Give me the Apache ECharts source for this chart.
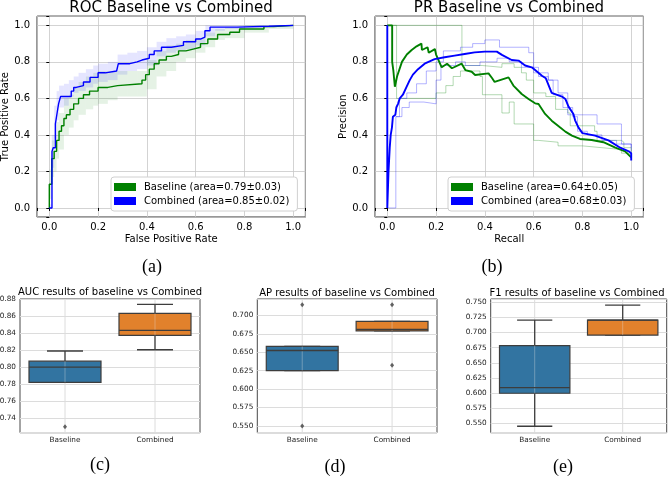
<!DOCTYPE html>
<html>
<head>
<meta charset="utf-8">
<script src="https://cdn.jsdelivr.net/npm/echarts@6/dist/echarts.min.js"></script>
<style>
html, body { margin: 0; padding: 0; background: #fff; }
#chart { width: 671px; height: 477px; }
</style>
</head>
<body>
<div id="chart"></div>
<script>
// ROC mean curves (step plots)
const rocBaseFpr = [0, 0, 0.01, 0.02, 0.03, 0.04, 0.05, 0.06, 0.07, 0.085, 0.1, 0.12, 0.14, 0.165, 0.2, 0.24, 0.28, 0.38, 0.395, 0.41, 0.43, 0.45, 0.48, 0.5, 0.53, 0.56, 0.59, 0.62, 0.65, 0.69, 0.74, 0.78, 0.88, 0.92, 1.0];
const rocBaseTpr = [0, 0.13, 0.27, 0.31, 0.37, 0.42, 0.45, 0.49, 0.51, 0.54, 0.57, 0.6, 0.62, 0.64, 0.66, 0.67, 0.68, 0.70, 0.73, 0.76, 0.79, 0.81, 0.83, 0.84, 0.86, 0.87, 0.88, 0.90, 0.925, 0.95, 0.962, 0.98, 0.993, 1.0, 1.0];
const rocCombFpr = [0, 0.011, 0.016, 0.025, 0.032, 0.038, 0.046, 0.09, 0.1, 0.11, 0.14, 0.167, 0.2, 0.23, 0.276, 0.283, 0.33, 0.36, 0.38, 0.41, 0.43, 0.46, 0.5, 0.55, 0.6, 0.62, 0.638, 0.659, 0.77, 0.9, 1.0];
const rocCombTpr = [0, 0.31, 0.33, 0.46, 0.52, 0.57, 0.61, 0.64, 0.66, 0.67, 0.69, 0.715, 0.74, 0.75, 0.76, 0.79, 0.80, 0.81, 0.82, 0.84, 0.86, 0.88, 0.89, 0.91, 0.925, 0.935, 0.97, 0.99, 0.995, 1.0, 1.0];

// ROC +/- std bands
const rocBandFpr = [0, 0.01, 0.02, 0.03, 0.04, 0.06, 0.08, 0.1, 0.12, 0.15, 0.18, 0.2, 0.24, 0.28, 0.32, 0.36, 0.4, 0.44, 0.48, 0.52, 0.56, 0.6, 0.64, 0.68, 0.72, 0.8, 0.9, 1.0];
const rocBaseLow = [0.05, 0.17, 0.20, 0.27, 0.32, 0.40, 0.44, 0.48, 0.51, 0.54, 0.56, 0.57, 0.59, 0.61, 0.61, 0.61, 0.65, 0.72, 0.75, 0.80, 0.82, 0.85, 0.88, 0.92, 0.93, 0.96, 0.98, 1.0];
const rocBaseHigh = [0.21, 0.37, 0.40, 0.47, 0.52, 0.60, 0.62, 0.66, 0.69, 0.72, 0.74, 0.75, 0.75, 0.75, 0.75, 0.75, 0.81, 0.86, 0.89, 0.90, 0.92, 0.93, 0.96, 0.98, 0.99, 1.0, 1.0, 1.0];
const rocCombLow = [0, 0.22, 0.38, 0.48, 0.55, 0.56, 0.61, 0.63, 0.64, 0.66, 0.68, 0.69, 0.70, 0.73, 0.75, 0.76, 0.78, 0.83, 0.85, 0.86, 0.87, 0.89, 0.94, 0.97, 0.98, 0.99, 0.99, 1.0];
const rocCombHigh = [0.02, 0.40, 0.56, 0.64, 0.67, 0.68, 0.70, 0.72, 0.74, 0.76, 0.78, 0.79, 0.80, 0.84, 0.85, 0.86, 0.88, 0.91, 0.93, 0.94, 0.95, 0.97, 1.0, 1.0, 1.0, 1.0, 1.0, 1.0];

// PR mean curves
const prBaseRec = [0, 0.02, 0.02, 0.025, 0.031, 0.04, 0.06, 0.08, 0.1, 0.12, 0.14, 0.142, 0.165, 0.17, 0.195, 0.2, 0.223, 0.245, 0.265, 0.305, 0.32, 0.346, 0.36, 0.415, 0.43, 0.44, 0.497, 0.517, 0.524, 0.551, 0.579, 0.606, 0.62, 0.647, 0.674, 0.709, 0.73, 0.757, 0.79, 0.838, 0.886, 0.935, 0.975, 1.0];
const prBasePrec = [1.0, 1.0, 0.8, 0.75, 0.664, 0.72, 0.80, 0.84, 0.865, 0.885, 0.9, 0.865, 0.88, 0.85, 0.87, 0.84, 0.77, 0.79, 0.765, 0.79, 0.755, 0.746, 0.728, 0.737, 0.71, 0.69, 0.715, 0.67, 0.664, 0.624, 0.597, 0.573, 0.569, 0.515, 0.478, 0.44, 0.418, 0.396, 0.378, 0.372, 0.36, 0.33, 0.31, 0.277];
const prCombRec = [0, 0, 0.005, 0.005, 0.01, 0.014, 0.019, 0.023, 0.033, 0.037, 0.044, 0.051, 0.064, 0.078, 0.092, 0.105, 0.126, 0.153, 0.194, 0.235, 0.276, 0.317, 0.358, 0.4, 0.449, 0.47, 0.51, 0.538, 0.565, 0.592, 0.606, 0.634, 0.65, 0.674, 0.716, 0.73, 0.743, 0.763, 0.77, 0.784, 0.8, 0.852, 0.907, 0.955, 0.99, 1.0, 1.0];
const prCombPrec = [1.0, 0, 0, 0.2, 0.33, 0.4, 0.44, 0.5, 0.51, 0.55, 0.57, 0.6, 0.62, 0.66, 0.7, 0.73, 0.76, 0.79, 0.815, 0.825, 0.834, 0.843, 0.852, 0.856, 0.856, 0.838, 0.81, 0.807, 0.78, 0.77, 0.755, 0.724, 0.71, 0.63, 0.61, 0.597, 0.555, 0.515, 0.48, 0.44, 0.41, 0.396, 0.37, 0.33, 0.31, 0.3, 0.26];

// PR upper / lower fold curves (faint step lines)
const prBaseHiRec = [0, 0.306, 0.39, 0.47, 0.52, 0.55, 0.57, 0.6, 0.65, 0.69, 0.74, 0.75, 0.85, 0.86, 0.96, 0.97, 1.0];
const prBaseHiPrec = [1.0, 0.78, 0.77, 0.79, 0.77, 0.74, 0.70, 0.63, 0.61, 0.54, 0.52, 0.45, 0.42, 0.37, 0.36, 0.33, 0.28];
const prBaseLoRec = [0, 0.038, 0.2, 0.24, 0.27, 0.3, 0.38, 0.39, 0.47, 0.5, 0.52, 0.6, 0.62, 0.7, 0.8, 0.88, 0.96, 1.0];
const prBaseLoPrec = [1.0, 0.6, 0.63, 0.67, 0.72, 0.75, 0.72, 0.62, 0.52, 0.58, 0.46, 0.37, 0.36, 0.34, 0.33, 0.32, 0.30, 0.27];
const prCombHiRec = [0.035, 0.05, 0.08, 0.12, 0.16, 0.2, 0.23, 0.3, 0.35, 0.4, 0.46, 0.58, 0.6, 0.66, 0.7, 0.74, 0.86, 0.96, 1.0];
const prCombHiPrec = [0.5, 0.6, 0.63, 0.68, 0.75, 0.80, 0.86, 0.88, 0.9, 0.92, 0.88, 0.85, 0.74, 0.70, 0.63, 0.51, 0.46, 0.35, 0.33];
const prCombLoRec = [0, 0.035, 0.06, 0.09, 0.15, 0.2, 0.22, 0.28, 0.32, 0.38, 0.45, 0.5, 0.55, 0.62, 0.66, 0.68, 0.72, 0.76, 0.78, 0.82, 0.88, 0.94, 1.0];
const prCombLoPrec = [0, 0.5, 0.55, 0.58, 0.57, 0.70, 0.78, 0.80, 0.78, 0.80, 0.82, 0.80, 0.77, 0.72, 0.70, 0.62, 0.55, 0.5, 0.42, 0.40, 0.37, 0.35, 0.31];

// box plots: [whiskerLow, q1, median, q3, whiskerHigh]
const boxCategories = ['Baseline', 'Combined'];
const aucBoxes = [[0.782, 0.782, 0.800, 0.807, 0.819], [0.8205, 0.8374, 0.8433, 0.8632, 0.8738]];
const aucOutliers = [[0, 0.730]];
const apBoxes = [[0.6252, 0.6252, 0.6524, 0.6579, 0.6579], [0.679, 0.679, 0.681, 0.6918, 0.6918]];
const apOutliers = [[0, 0.7144], [0, 0.5499], [1, 0.7144], [1, 0.6324]];
const f1Boxes = [[0.5456, 0.5999, 0.6092, 0.6783, 0.7204], [0.6957, 0.6957, 0.7204, 0.7204, 0.745]];
const f1Outliers = [];

const rocLegend = ['Baseline (area=0.79±0.03)', 'Combined (area=0.85±0.02)'];
const prLegend = ['Baseline (area=0.64±0.05)', 'Combined (area=0.68±0.03)'];

const FONT = 'DejaVu Sans';
const boxColors = ['#3274a1', '#e1812c'];
const edge = '#3d3d3d';

const pts = (xs, ys) => xs.map((x, i) => [x, ys[i]]);

function onStep(v, step) {
    return Math.abs(v / step - Math.round(v / step)) < 1e-6;
}

function curveGrid(left) {
    return { left: left, top: 16.2, width: 268.3, height: 200.9, show: true, borderColor: '#000', borderWidth: 1,
        backgroundColor: 'transparent', containLabel: false, outerBoundsMode: 'none' };
}
function boxGrid(left, width) {
    return { left: left, top: 299, width: width, height: 133.7, show: true, borderColor: '#333', borderWidth: 0.9,
        backgroundColor: 'transparent', containLabel: false, outerBoundsMode: 'none' };
}

function curveAxis(gridIndex, name, isY) {
    return {
        type: 'value', gridIndex: gridIndex, min: -0.05, max: 1.05, minInterval: 0.2, maxInterval: 0.2,
        name: name, nameLocation: 'middle', nameGap: isY ? 19 : 17, nameRotate: isY ? 90 : 0,
        nameTextStyle: { fontFamily: FONT, fontSize: 10, color: '#000' },
        axisLine: { show: false },
        axisTick: { show: true, length: 3, lineStyle: { color: '#000' } },
        axisLabel: { fontFamily: FONT, fontSize: 10, color: '#000', margin: isY ? 7 : 5, hideOverlap: false,
            formatter: v => (v < -1e-9 || v > 1 + 1e-9 || !onStep(v, 0.2)) ? '' : v.toFixed(1) },
        splitLine: { show: true, lineStyle: { color: '#c8c8c8', width: 0.8 } }
    };
}

function boxYAxis(gridIndex, min, max, step, digits) {
    return {
        type: 'value', gridIndex: gridIndex, min: min, max: max, minInterval: step, maxInterval: step,
        axisLine: { show: false }, axisTick: { show: false },
        axisLabel: { fontFamily: FONT, fontSize: 7.3, color: '#222', margin: 4, hideOverlap: false,
            formatter: v => onStep(v, step) ? v.toFixed(digits) : '' },
        splitLine: { show: true, lineStyle: { color: '#dcdcdc', width: 1 } }
    };
}
function boxXAxis(gridIndex) {
    return {
        type: 'category', gridIndex: gridIndex, data: boxCategories, boundaryGap: true,
        axisLine: { show: false }, axisTick: { show: false },
        axisLabel: { fontFamily: FONT, fontSize: 7.3, color: '#222', margin: 4, interval: 0 },
        splitLine: { show: false }
    };
}

function renderBox(params, api) {
    const i = api.value(0);
    const bw = api.size([1, 0])[0] * 0.8;
    const cw = bw / 2;
    const cx = api.coord([i, api.value(3)])[0];
    const yOf = k => api.coord([i, api.value(k)])[1];
    const wLo = yOf(1), q1 = yOf(2), med = yOf(3), q3 = yOf(4), wHi = yOf(5);
    const cs = params.coordSys;
    const ln = (x1, y1, x2, y2, stroke, w) => ({ type: 'line', shape: { x1: x1, y1: y1, x2: x2, y2: y2 }, style: { stroke: stroke, lineWidth: w } });
    return {
        type: 'group',
        children: [
            ln(cx, cs.y, cx, cs.y + cs.height, '#dcdcdc', 1),
            ln(cx, q1, cx, wLo, edge, 1.3),
            ln(cx, q3, cx, wHi, edge, 1.3),
            ln(cx - cw / 2, wLo, cx + cw / 2, wLo, edge, 1.3),
            ln(cx - cw / 2, wHi, cx + cw / 2, wHi, edge, 1.3),
            { type: 'rect', shape: { x: cx - bw / 2, y: q3, width: bw, height: q1 - q3 },
              style: { fill: boxColors[params.dataIndex], stroke: edge, lineWidth: 1.2 } },
            ln(cx, q3, cx, q1, 'rgba(225,225,225,0.35)', 1),
            ln(cx - bw / 2, med, cx + bw / 2, med, edge, 1.3)
        ]
    };
}

function boxSeries(idx, boxes, outliers) {
    return [{
        type: 'custom', xAxisIndex: idx, yAxisIndex: idx, renderItem: renderBox,
        encode: { x: 0, y: [1, 2, 3, 4, 5] },
        data: boxes.map((b, i) => [i].concat(b)), silent: true
    }, {
        type: 'scatter', xAxisIndex: idx, yAxisIndex: idx, symbol: 'diamond', symbolSize: [4, 5],
        itemStyle: { color: edge }, data: outliers, silent: true
    }];
}

// std band as one step rectangle per fpr interval
function band(xs, lo, hi, fill) {
    return {
        type: 'custom', xAxisIndex: 0, yAxisIndex: 0, silent: true,
        encode: { x: [0, 1], y: [2, 3] },
        data: xs.slice(0, -1).map((x, i) => [x, xs[i + 1], lo[i], hi[i]]),
        renderItem: function (params, api) {
            const p0 = api.coord([api.value(0), api.value(3)]);
            const p1 = api.coord([api.value(1), api.value(2)]);
            return { type: 'rect', shape: { x: p0[0], y: p0[1], width: p1[0] - p0[0], height: p1[1] - p0[1] },
                style: { fill: fill } };
        }
    };
}

function curve(axis, name, data, color, width, step) {
    return {
        type: 'line', name: name, xAxisIndex: axis, yAxisIndex: axis, data: data, step: step,
        symbol: 'none', color: color, itemStyle: { color: color },
        lineStyle: { color: color, width: width }, silent: true
    };
}

function legend(names, left) {
    return {
        data: names, left: left, top: 177, orient: 'vertical', icon: 'rect', itemWidth: 22, itemHeight: 8,
        itemGap: 4, padding: [5, 8, 5, 3], backgroundColor: '#fff', borderColor: '#d0d0d0', borderWidth: 1,
        borderRadius: 3, selectedMode: false,
        textStyle: { fontFamily: FONT, fontSize: 10, color: '#000', padding: [0, 0, 0, 3] }
    };
}

function label(text, x, y, size, family) {
    return { type: 'text', x: x, y: y, silent: true,
        style: { text: text, fontSize: size, fontFamily: family || FONT, fill: '#000', align: 'center', verticalAlign: 'middle' } };
}

const chart = echarts.init(document.getElementById('chart'));
chart.setOption({
    animation: false,
    backgroundColor: '#fff',
    grid: [curveGrid(37.1), curveGrid(375.1), boxGrid(20, 180), boxGrid(257.3, 179.7), boxGrid(490.7, 176)],
    xAxis: [curveAxis(0, 'False Positive Rate', false), curveAxis(1, 'Recall', false),
        boxXAxis(2), boxXAxis(3), boxXAxis(4)],
    yAxis: [curveAxis(0, 'True Positive Rate', true), curveAxis(1, 'Precision', true),
        boxYAxis(2, 0.7229, 0.8802, 0.02, 2), boxYAxis(3, 0.5408, 0.7223, 0.025, 3), boxYAxis(4, 0.535, 0.755, 0.025, 3)],
    legend: [legend(rocLegend, 111), legend(prLegend, 448)],
    graphic: [
        label('ROC Baseline vs Combined', 171, 8, 15),
        label('PR Baseline vs Combined', 509, 8, 15),
        label('AUC results of baseline vs Combined', 110, 292, 10),
        label('AP results of baseline vs Combined', 347, 293, 10),
        label('F1 results of baseline vs Combined', 577, 293, 10),
        label('(a)', 152, 267, 18, 'Liberation Serif'),
        label('(b)', 492, 267, 18, 'Liberation Serif'),
        label('(c)', 100, 465, 18, 'Liberation Serif'),
        label('(d)', 335, 467, 18, 'Liberation Serif'),
        label('(e)', 563, 467, 18, 'Liberation Serif')
    ],
    series: [].concat(
        [band(rocBandFpr, rocBaseLow, rocBaseHigh, 'rgba(0,128,0,0.1)'),
         band(rocBandFpr, rocCombLow, rocCombHigh, 'rgba(0,0,255,0.1)'),
         curve(0, rocLegend[0], pts(rocBaseFpr, rocBaseTpr), 'green', 1.4, 'end'),
         curve(0, rocLegend[1], pts(rocCombFpr, rocCombTpr), 'blue', 1.4, 'end'),
         curve(1, 'Baseline upper', pts(prBaseHiRec, prBaseHiPrec), 'rgba(0,128,0,0.3)', 1, 'end'),
         curve(1, 'Baseline lower', pts(prBaseLoRec, prBaseLoPrec), 'rgba(0,128,0,0.3)', 1, 'end'),
         curve(1, 'Combined upper', pts(prCombHiRec, prCombHiPrec), 'rgba(0,0,255,0.3)', 1, 'end'),
         curve(1, 'Combined lower', pts(prCombLoRec, prCombLoPrec), 'rgba(0,0,255,0.3)', 1, 'end'),
         curve(1, prLegend[0], pts(prBaseRec, prBasePrec), 'green', 1.9, false),
         curve(1, prLegend[1], pts(prCombRec, prCombPrec), 'blue', 1.9, false)],
        boxSeries(2, aucBoxes, aucOutliers),
        boxSeries(3, apBoxes, apOutliers),
        boxSeries(4, f1Boxes, f1Outliers)
    )
});
</script>
</body>
</html>
